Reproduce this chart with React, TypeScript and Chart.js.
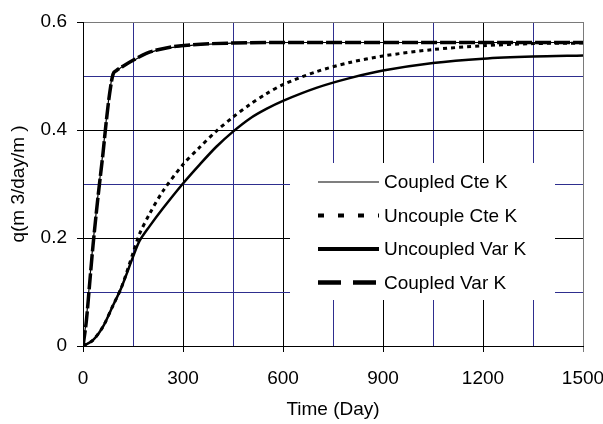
import React, { useEffect, useRef } from "react";
import { Chart, registerables } from "chart.js";

Chart.register(...registerables);

// ---- data ----
const coupledTime = [0, 10, 20, 30, 45, 60, 70, 80, 90, 100, 120, 150, 190, 250, 330, 450, 600, 800, 1000, 1200, 1500];
const coupledCteK = [0, 0.05, 0.12, 0.19, 0.28, 0.36, 0.42, 0.47, 0.505, 0.51, 0.518, 0.528, 0.541, 0.551, 0.557, 0.561, 0.562, 0.562, 0.562, 0.562, 0.562];
const coupledVarK = [0, 0.046, 0.116, 0.186, 0.276, 0.357, 0.417, 0.468, 0.503, 0.51, 0.518, 0.529, 0.542, 0.552, 0.558, 0.561, 0.562, 0.562, 0.562, 0.562, 0.562];

const uncoupledTime = [0, 30, 60, 90, 115, 150, 170, 200, 240, 300, 350, 400, 450, 500, 550, 600, 700, 800, 900, 1050, 1200, 1350, 1500];
const uncoupleCteK = [0, 0.011, 0.036, 0.075, 0.108, 0.172, 0.208, 0.245, 0.287, 0.336, 0.368, 0.398, 0.424, 0.447, 0.467, 0.484, 0.508, 0.525, 0.537, 0.549, 0.556, 0.56, 0.561];
const uncoupledVarK = [0, 0.011, 0.036, 0.075, 0.108, 0.165, 0.195, 0.222, 0.255, 0.301, 0.336, 0.369, 0.397, 0.421, 0.439, 0.454, 0.478, 0.496, 0.51, 0.524, 0.532, 0.536, 0.538];

const seriesNames = ["Coupled Cte K", "Uncouple Cte K", "Uncoupled Var K", "Coupled Var K"];
const xTickLabels = ["0", "300", "600", "900", "1200", "1500"];
const yTickLabels = ["0", "0.2", "0.4", "0.6"];

const FONT_FAMILY = "'Liberation Sans', Arial, sans-serif";
const FONT_SIZE = 19;
const NAVY = "#2e2e8e";
const GRAY = "#7a7a7a";

const toXY = (xs: number[], ys: number[]) => xs.map((x, i) => ({ x, y: ys[i] }));

const legendStyles = [
  { width: 1.2, dash: [] as number[] },
  { width: 4, dash: [6, 14] },
  { width: 4, dash: [] as number[] },
  { width: 4.5, dash: [23, 12] },
];

const legendPlugin = {
  id: "boxLegend",
  afterDraw(chart: any) {
    const ctx = chart.ctx as CanvasRenderingContext2D;
    ctx.save();
    ctx.fillStyle = "#fff";
    ctx.fillRect(290, 163, 265, 137);
    const rows = [182, 215.5, 249, 282.5];
    seriesNames.forEach((name, i) => {
      const st = legendStyles[i];
      ctx.strokeStyle = "#000";
      ctx.lineWidth = st.width;
      ctx.setLineDash(st.dash);
      ctx.lineCap = "butt";
      ctx.beginPath();
      ctx.moveTo(318, rows[i]);
      ctx.lineTo(379, rows[i]);
      ctx.stroke();
      ctx.setLineDash([]);
      ctx.fillStyle = "#000";
      ctx.font = `${FONT_SIZE}px ${FONT_FAMILY}`;
      ctx.textBaseline = "alphabetic";
      ctx.textAlign = "left";
      ctx.fillText(name, 384, rows[i] + 6);
    });
    ctx.restore();
  },
};

export default function App() {
  const canvasRef = useRef<HTMLCanvasElement | null>(null);

  useEffect(() => {
    if (!canvasRef.current) return;
    const xMajor = (v: number) => Math.round(v) % 300 === 0;
    const yMajor = (v: number) => Math.round(v * 10) % 2 === 0;

    const chart = new Chart(canvasRef.current, {
      type: "scatter",
      data: {
        datasets: [
          {
            label: seriesNames[0],
            data: toXY(coupledTime, coupledCteK),
            showLine: true,
            borderColor: "#000",
            borderWidth: 1.2,
            pointRadius: 0,
            cubicInterpolationMode: "monotone",
          },
          {
            label: seriesNames[1],
            data: toXY(uncoupledTime, uncoupleCteK),
            showLine: true,
            borderColor: "#000",
            borderWidth: 3,
            borderDash: [4, 4],
            pointRadius: 0,
            tension: 0.3,
          },
          {
            label: seriesNames[2],
            data: toXY(uncoupledTime, uncoupledVarK),
            showLine: true,
            borderColor: "#000",
            borderWidth: 2.5,
            pointRadius: 0,
            tension: 0.3,
          },
          {
            label: seriesNames[3],
            data: toXY(coupledTime, coupledVarK),
            showLine: true,
            borderColor: "#000",
            borderWidth: 3.5,
            borderDash: [16, 3],
            pointRadius: 0,
            cubicInterpolationMode: "monotone",
          },
        ],
      } as any,
      options: {
        responsive: false,
        animation: false,
        layout: { padding: { top: 22, right: 20, left: 0, bottom: 0 } },
        plugins: { legend: { display: false }, tooltip: { enabled: false } },
        scales: {
          x: {
            type: "linear",
            min: 0,
            max: 1500,
            afterFit: (s: any) => {
              s.height = 78;
              s.paddingLeft = 0;
              s.paddingRight = 0;
            },
            ticks: {
              stepSize: 150,
              autoSkip: false,
              maxRotation: 0,
              padding: 15,
              color: "#000",
              font: { family: FONT_FAMILY, size: FONT_SIZE },
              callback: (v: any) => {
                const s = String(v);
                return xTickLabels.includes(s) ? s : "";
              },
            },
            grid: {
              color: (c: any) => (xMajor(c.tick.value) ? (c.tick.value === 1500 ? GRAY : "#000") : NAVY),
              tickColor: (c: any) => (xMajor(c.tick.value) ? (c.tick.value === 1500 ? GRAY : "#000") : "rgba(0,0,0,0)"),
              tickLength: 6,
              lineWidth: 1,
            },
            border: { color: "#000", width: 1 },
            title: {
              display: true,
              text: "Time (Day)",
              color: "#000",
              font: { family: FONT_FAMILY, size: FONT_SIZE },
              padding: { top: 0, bottom: 3 },
            },
          },
          y: {
            type: "linear",
            min: 0,
            max: 0.6,
            afterFit: (s: any) => {
              s.width = 83;
              s.paddingTop = 0;
              s.paddingBottom = 0;
            },
            ticks: {
              stepSize: 0.1,
              autoSkip: false,
              padding: 10,
              color: "#000",
              font: { family: FONT_FAMILY, size: FONT_SIZE },
              callback: (v: any) => {
                const s = String(Math.round(Number(v) * 10) / 10);
                return yTickLabels.includes(s) ? s : "";
              },
            },
            grid: {
              color: (c: any) => (yMajor(c.tick.value) ? (Math.round(c.tick.value * 10) === 6 ? GRAY : "#000") : NAVY),
              tickColor: (c: any) => (yMajor(c.tick.value) ? "#000" : "rgba(0,0,0,0)"),
              tickLength: 6,
              lineWidth: 1,
            },
            border: { color: "#000", width: 1 },
            title: {
              display: true,
              text: "q(m 3/day/m )",
              color: "#000",
              font: { family: FONT_FAMILY, size: FONT_SIZE },
              padding: { top: 7, bottom: 0 },
            },
          },
        },
      } as any,
      plugins: [legendPlugin],
    });
    return () => chart.destroy();
  }, []);

  return (
    <div style={{ position: "absolute", left: 0, top: 0, width: 603, height: 424, background: "#fff" }}>
      <canvas ref={canvasRef} width={603} height={424} style={{ display: "block" }} />
    </div>
  );
}
